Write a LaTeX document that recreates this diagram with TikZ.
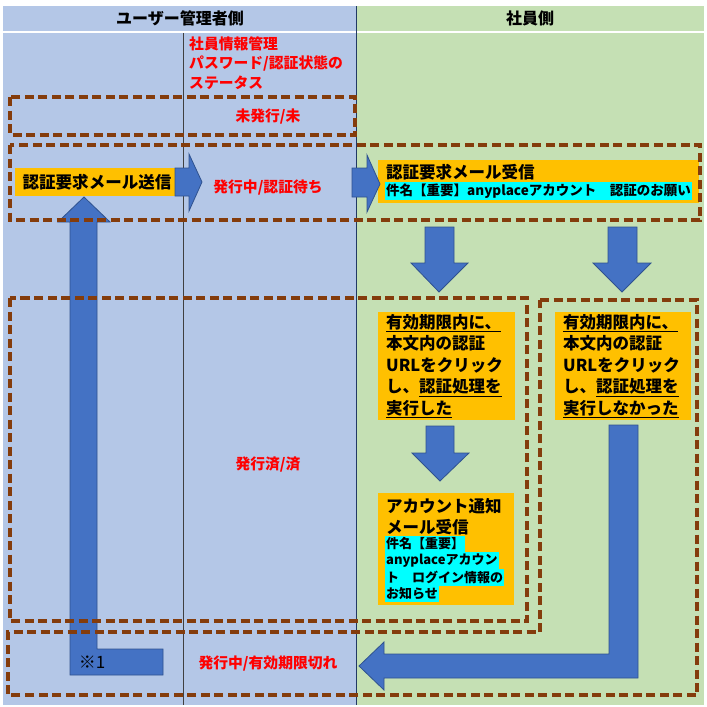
\documentclass[tikz,border=0pt]{standalone}
\usepackage{fontspec}
\setmainfont{Noto Sans CJK JP}
\definecolor{lblue}{HTML}{B4C7E7}
\definecolor{lgreen}{HTML}{C5E0B4}
\definecolor{arrowblue}{HTML}{4472C4}
\definecolor{arrowedge}{HTML}{2F528F}
\definecolor{orangebox}{HTML}{FFC000}
\definecolor{brownd}{HTML}{843C0C}
\definecolor{redtxt}{HTML}{FF0000}
\definecolor{cyanhl}{HTML}{00FFFF}
\begin{document}
\begin{tikzpicture}[x=1pt,y=-1pt,
  redt/.style={text=redtxt, font=\bfseries\fontsize{14.8}{19.3}\selectfont, inner sep=0pt},
  hdr/.style={font=\bfseries\fontsize{16}{18}\selectfont, inner sep=0pt},
  obox/.style={fill=orangebox, draw=none, inner sep=0pt, outer sep=0pt, anchor=north west},
  otext/.style={font=\bfseries\fontsize{16.5}{21.5}\selectfont, inner sep=0pt, align=left, anchor=west},
  ctext/.style={fill=cyanhl, font=\bfseries\fontsize{13}{13}\selectfont, inner xsep=1pt, inner ysep=1.8pt, anchor=west},
  barrow/.style={fill=arrowblue, draw=arrowedge, line width=0.8pt, line join=miter},
  dbox/.style={draw=brownd, line width=3.2pt, dash pattern=on 9pt off 4.5pt}]
\useasboundingbox (0,0) rectangle (707,707);
% backgrounds
\fill[lblue] (3,6) rectangle (356,31);
\fill[lgreen] (356,6) rectangle (704,31);
\fill[lblue] (3,33) rectangle (356,705);
\fill[lgreen] (356,33) rectangle (704,705);
\draw[line width=0.8pt, black!75] (183,33) -- (183,705);
\draw[line width=1pt, arrowedge!70!black] (356,6) -- (356,705);
% headers
\node[hdr] (h1) at (180,18) {ユーザー管理者側};
\node[hdr] (h2) at (530,18) {社員側};
% status label
\node[redt, align=left, anchor=west] (st) at (189,63) {社員情報管理\\パスワード/認証状態の\\ステータス};
\node[redt] (s1) at (268,117) {未発行/未};
\node[redt] (s2) at (268,188) {発行中/認証待ち};
\node[redt] (s3) at (268,465) {発行済/済};
\node[redt] (s4) at (268,664) {発行中/有効期限切れ};
% send box
\node[obox, minimum width=160pt, minimum height=28pt] (send) at (15,168) {};
\node[font=\bfseries\fontsize{16.5}{18}\selectfont, inner sep=0pt] (sendt) at (97,182) {認証要求メール送信};
% receive box
\node[obox, minimum width=321pt, minimum height=43pt] (recv) at (378,160) {};
\node[otext] (recvt) at (386,172) {認証要求メール受信};
\node[ctext, font=\bfseries\fontsize{13.5}{13.5}\selectfont] (recvc) at (385,191) {件名【重要】anyplaceアカウント　認証のお願い};
% right arrows
\draw[barrow] (175,168) -- (189,168) -- (189,154) -- (202,182) -- (189,211) -- (189,196) -- (175,196) -- cycle;
\draw[barrow] (352,168) -- (367,168) -- (367,155) -- (380,184) -- (367,212) -- (367,197) -- (352,197) -- cycle;
% down arrows
\draw[barrow] (425,227) -- (454,227) -- (454,263) -- (468,263) -- (439,292) -- (411,263) -- (425,263) -- cycle;
\draw[barrow] (608,227) -- (637,227) -- (637,263) -- (651,263) -- (622,292) -- (593,263) -- (608,263) -- cycle;
\draw[barrow] (426,426) -- (454,426) -- (454,453) -- (469,453) -- (440,481) -- (412,453) -- (426,453) -- cycle;
% condition boxes
\node[obox, minimum width=137pt, minimum height=108pt] (ok1) at (378,312) {};
\node[otext] (ok1t) at (386,366) {\underline{有効期限内に、}\\本文内の認証\\URLをクリック\\し、\underline{認証処理を}\\\underline{実行した}};
\node[obox, minimum width=136pt, minimum height=108pt] (ng1) at (555,312) {};
\node[otext] (ng1t) at (563,366) {\underline{有効期限内に、}\\本文内の認証\\URLをクリック\\し、\underline{認証処理を}\\\underline{実行しなかった}};
% account notice box
\node[obox, minimum width=136pt, minimum height=112pt] (acc) at (378,493) {};
\node[otext] (acct) at (386,516.5) {アカウント通知\\メール受信};
\node[ctext] (accc1) at (385,544) {件名【重要】};
\node[ctext] (accc2) at (385,560.7) {anyplaceアカウン};
\node[ctext] (accc3) at (385,577.4) {ト　ログイン情報の};
\node[ctext] (accc4) at (385,594) {お知らせ};
% big bent arrows
\draw[barrow] (609,425) -- (638,425) -- (638,678) -- (384,678) -- (384,690) -- (359,666) -- (384,642) -- (384,654) -- (609,654) -- cycle;
\draw[barrow] (70,675) -- (163,675) -- (163,649) -- (97,649) -- (97,222) -- (110,222) -- (84,197) -- (58,222) -- (70,222) -- cycle;
\node[font=\fontsize{17}{17}\selectfont, inner sep=0pt] (note) at (92,662) {※1};
% dashed state boxes
\draw[dbox] (10,97) rectangle (355,135);
\draw[dbox] (10,145) rectangle (700,220);
\draw[dbox] (10,298) rectangle (527,621);
\draw[dbox] (540,300) -- (697,300) -- (697,695) -- (8,695) -- (8,632) -- (540,632) -- cycle;
\end{tikzpicture}
\end{document}
